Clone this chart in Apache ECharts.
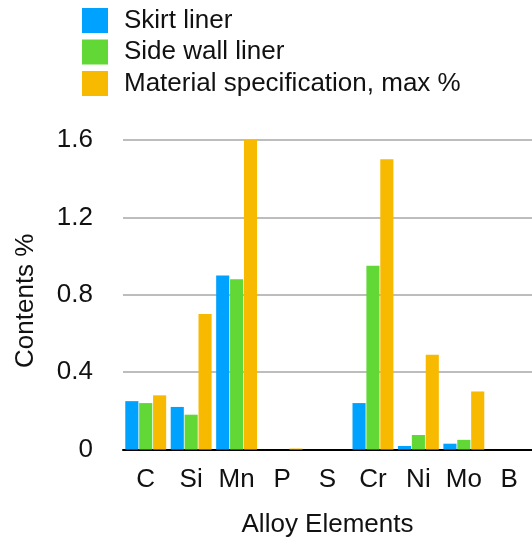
<!DOCTYPE html>
<html>
<head>
<meta charset="utf-8">
<script src="https://cdn.jsdelivr.net/npm/echarts@6/dist/echarts.min.js"></script>
<style>
  html, body { margin: 0; padding: 0; background: #fff; }
  #chart { width: 532px; height: 537px; }
</style>
</head>
<body>
<div id="chart"></div>
<script>
// Alloy element contents (%) of the liners versus the material specification
const elements = ['C', 'Si', 'Mn', 'P', 'S', 'Cr', 'Ni', 'Mo', 'B'];
const skirtLiner = [0.25, 0.22, 0.90, 0, 0, 0.24, 0.018, 0.03, 0];
const sideWallLiner = [0.24, 0.18, 0.88, 0, 0, 0.95, 0.075, 0.05, 0];
const specMax = [0.28, 0.70, 1.60, 0.005, 0, 1.50, 0.49, 0.30, 0];
const yTicks = [0, 0.4, 0.8, 1.2, 1.6];

const seriesNames = ['Skirt liner', 'Side wall liner', 'Material specification, max %'];
const seriesColors = ['#00a2ff', '#61d836', '#f8ba00'];
const FONT = '"Liberation Sans", Arial, sans-serif';
const FS = 26;

const chart = echarts.init(document.getElementById('chart'), null, { renderer: 'canvas' });

const makeSeries = (name, data, color) => ({
  name, type: 'bar', data,
  itemStyle: { color },
  barGap: '6%',
  barCategoryGap: '10%',
  emphasis: { disabled: true }
});

chart.setOption({
  animation: false,
  backgroundColor: '#ffffff',
  textStyle: { fontFamily: FONT },
  legend: {
    orient: 'vertical',
    left: 82, top: 7.5,
    padding: 0,
    itemWidth: 26, itemHeight: 25, itemGap: 5.5,
    icon: 'rect',
    data: seriesNames,
    textStyle: { fontSize: FS, color: '#111', fontFamily: FONT, padding: [0, 0, 0, 11] }
  },
  grid: {
    left: 123, right: 0, top: 140, bottom: 87.5,
    containLabel: false,
    outerBoundsMode: 'none'
  },
  xAxis: {
    type: 'category',
    data: elements,
    name: 'Alloy Elements',
    nameLocation: 'middle',
    nameGap: 62,
    nameTextStyle: { fontSize: FS, color: '#111', fontFamily: FONT },
    axisLine: { show: true, lineStyle: { color: '#000', width: 2 } },
    axisTick: { show: false },
    axisLabel: { fontSize: FS, color: '#111', margin: 17, fontFamily: FONT, interval: 0, hideOverlap: false }
  },
  yAxis: {
    type: 'value',
    min: 0, max: 1.6, interval: 0.4,
    name: 'Contents %',
    nameLocation: 'middle',
    nameGap: 84,
    nameRotate: 90,
    nameTextStyle: { fontSize: FS, color: '#111', fontFamily: FONT, padding: [0, 12, 0, 0] },
    axisLine: { show: false },
    axisTick: { show: false },
    splitLine: { show: true, lineStyle: { color: '#bdbdbd', width: 2 } },
    axisLabel: {
      fontSize: FS, color: '#111', margin: 30, fontFamily: FONT,
      customValues: yTicks,
      formatter: v => (v === 0 ? '0' : v.toFixed(1))
    }
  },
  series: [
    makeSeries(seriesNames[0], skirtLiner, seriesColors[0]),
    makeSeries(seriesNames[1], sideWallLiner, seriesColors[1]),
    makeSeries(seriesNames[2], specMax, seriesColors[2])
  ]
});
</script>
</body>
</html>
